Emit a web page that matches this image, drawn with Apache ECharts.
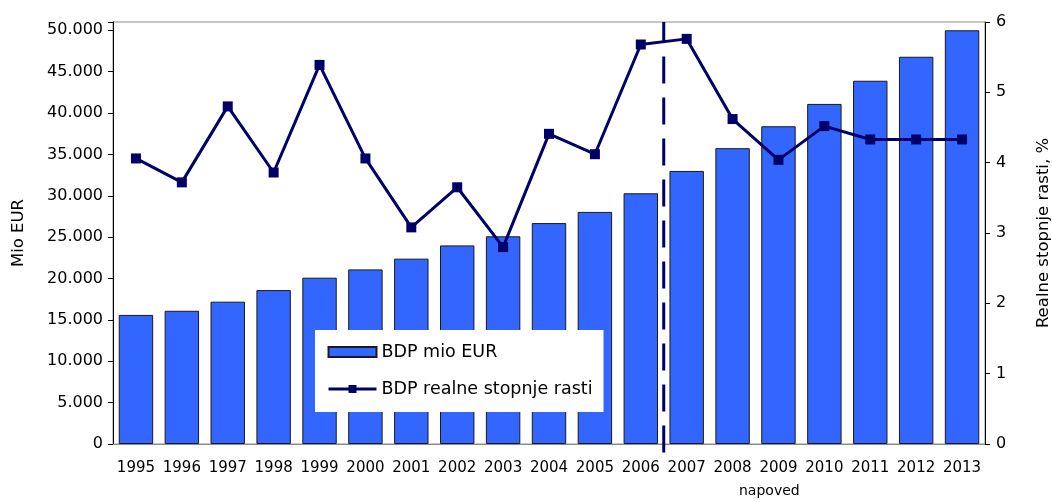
<!DOCTYPE html>
<html>
<head>
<meta charset="utf-8">
<title>BDP</title>
<script src="https://cdn.jsdelivr.net/npm/echarts@6/dist/echarts.min.js"></script>
<style>
  html, body { margin: 0; padding: 0; background: #fff; }
  #chart { width: 1052px; height: 502px; }
</style>
</head>
<body>
<div id="chart"></div>
<script>
// podatki
var years = ['1995', '1996', '1997', '1998', '1999', '2000', '2001', '2002', '2003', '2004',
  '2005', '2006', '2007', '2008', '2009', '2010', '2011', '2012', '2013'];
var bdpMio = [15600, 16100, 17200, 18600, 20100, 21100, 22400, 24000, 25100, 26700,
  28050, 30300, 33000, 35750, 38400, 41100, 43900, 46800, 50000];
var rastBdp = [4.06, 3.72, 4.80, 3.86, 5.39, 4.06, 3.08, 3.65, 2.80, 4.41,
  4.12, 5.68, 5.76, 4.62, 4.04, 4.52, 4.33, 4.33, 4.33];
var leftTicks = [0, 5000, 10000, 15000, 20000, 25000, 30000, 35000, 40000, 45000, 50000];
var rightTicks = [0, 1, 2, 3, 4, 5, 6];
var napovedOd = '2007'; // od tu naprej napoved

var font = '"DejaVu Sans", Arial, sans-serif';
var splitIdx = years.indexOf(napovedOd);
var rMax = rightTicks[rightTicks.length - 1];

function tisoc(v) {
  if (v > leftTicks[leftTicks.length - 1]) return '';
  return String(v).replace(/\B(?=(\d{3})+(?!\d))/g, '.');
}

var myChart = echarts.init(document.getElementById('chart'));
myChart.setOption({
  animation: false,
  backgroundColor: '#fff',
  textStyle: { fontFamily: font, color: '#000' },
  grid: {
    left: 113, right: 67, top: 22, bottom: 58,
    outerBoundsMode: 'none',
    show: true, borderColor: '#8c8c8c', borderWidth: 1, backgroundColor: 'transparent'
  },
  legend: {
    left: 315, top: 330,
    orient: 'vertical',
    backgroundColor: '#fff',
    padding: [13, 11, 14, 12],
    itemGap: 19,
    itemWidth: 48,
    itemHeight: 10,
    textStyle: { fontFamily: font, fontSize: 17.5, color: '#000' },
    data: [
      { name: 'BDP mio EUR', icon: 'rect' },
      { name: 'BDP realne stopnje rasti', lineStyle: { width: 3 } }
    ]
  },
  xAxis: [
    {
      type: 'category',
      data: years,
      axisLine: { lineStyle: { color: '#8c8c8c', width: 1 } },
      axisTick: { show: false },
      axisLabel: { fontFamily: font, fontSize: 15, color: '#000', margin: 17, interval: 0 },
      splitLine: { show: false }
    },
    { type: 'value', min: 0, max: years.length, show: false }
  ],
  yAxis: [
    {
      type: 'value',
      min: 0, max: 51000, interval: 5000,
      name: 'Mio EUR', nameLocation: 'middle', nameRotate: 90, nameGap: 86,
      nameTextStyle: { fontFamily: font, fontSize: 16.5, color: '#000' },
      axisLine: { show: true, lineStyle: { color: '#000', width: 1 } },
      axisTick: { show: true, length: 5, lineStyle: { color: '#000' } },
      axisLabel: { fontFamily: font, fontSize: 16, color: '#000', margin: 10, formatter: tisoc },
      splitLine: { show: false }
    },
    {
      type: 'value',
      min: rightTicks[0], max: rMax, interval: 1,
      name: 'Realne stopnje rasti, %', nameLocation: 'middle', nameRotate: 90, nameGap: 50,
      nameTextStyle: { fontFamily: font, fontSize: 16.5, color: '#000' },
      axisLine: { show: true, lineStyle: { color: '#000', width: 1 } },
      axisTick: { show: true, length: 5, lineStyle: { color: '#000' } },
      axisLabel: { fontFamily: font, fontSize: 16, color: '#000', margin: 11 },
      splitLine: { show: false }
    }
  ],
  graphic: [
    {
      type: 'text', left: 739, top: 484,
      style: { text: 'napoved', font: '14px ' + font, fill: '#000' }
    }
  ],
  series: [
    {
      name: 'BDP mio EUR',
      type: 'bar',
      data: bdpMio,
      barWidth: '75%',
      itemStyle: { color: '#3366ff', borderColor: '#1a1a1a', borderWidth: 1 },
      z: 2
    },
    {
      name: 'BDP realne stopnje rasti',
      type: 'line',
      yAxisIndex: 1,
      data: rastBdp,
      symbol: 'rect',
      symbolSize: 10,
      lineStyle: { color: '#000066', width: 3 },
      itemStyle: { color: '#000066' },
      z: 4
    },
    {
      // crta med zgodovino in napovedjo
      name: 'napoved',
      type: 'line',
      xAxisIndex: 1,
      yAxisIndex: 1,
      data: [[splitIdx, -0.12], [splitIdx, rMax]],
      symbol: 'none',
      clip: false,
      silent: true,
      lineStyle: { type: [27, 14], color: '#000066', width: 3 },
      z: 5
    }
  ]
});
</script>
</body>
</html>
